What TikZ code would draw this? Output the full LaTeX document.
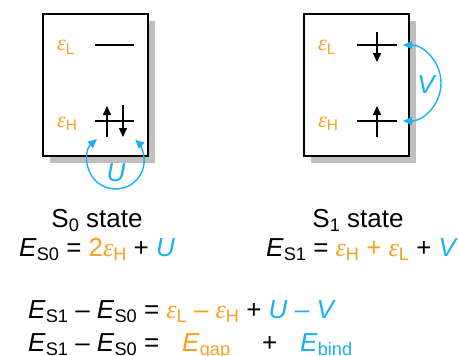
\documentclass[tikz,border=0pt]{standalone}
\usepackage{fontspec}
\setmainfont{Liberation Sans}
\newfontfamily\greekit{Liberation Serif}
\usetikzlibrary{arrows.meta,shadows}
\definecolor{levelorange}{HTML}{F7A11E}
\definecolor{coulombblue}{HTML}{1BB1F0}
\definecolor{shadowgray}{HTML}{BFBFBF}
\makeatletter
\newcommand{\lo}[1]{\raisebox{-0.17em}{\fontsize{\strip@pt\dimexpr0.7\dimexpr\f@size pt\relax\relax}{0}\selectfont #1}}
\makeatother
\newcommand{\eps}{{\greekit\itshape ε}}
\tikzset{
  statebox/.style={draw, fill=white, line width=1.3pt, minimum width=105pt, minimum height=142pt, inner sep=0pt,
    general shadow={fill=shadowgray, shadow xshift=7pt, shadow yshift=-7pt}},
  level/.style={line width=1.3pt},
  spin/.style={->, line width=1.6pt},
  coulomb/.style={<->, coulombblue, line width=1.4pt},
  levellabel/.style={anchor=base west, inner sep=0pt, levelorange, font=\fontsize{22}{26}\selectfont},
  eqline/.style={anchor=base west, inner sep=0pt},
}

\begin{document}
\begin{tikzpicture}[x=1pt, y=-1pt, >={Triangle[length=9pt,width=8pt]}, font=\fontsize{26}{30}\selectfont]
  \useasboundingbox (0,0) rectangle (459,356);
  % S0 box
  \node[statebox] (box0) at (95.5,85) {};
  \coordinate (L0) at (114.5,45);
  \coordinate (H0) at (114.5,121);
  \draw[level] ([xshift=-19.5]L0) -- ([xshift=19.5]L0);
  \draw[level] ([xshift=-19.5]H0) -- ([xshift=19.5]H0);
  \draw[spin] ([shift={(-7.5,16)}]H0) -- ([shift={(-7.5,-15)}]H0);
  \draw[spin] ([shift={(8.5,-16)}]H0) -- ([shift={(8.5,16)}]H0);
  \node[levellabel] (epsL0) at (57,51) {\eps\lo{L}};
  \node[levellabel] (epsH0) at (57,127) {\eps\lo{H}};
  \draw[coulomb] ([shift={(-17.5,18)}]H0) arc[start angle=229, end angle=-47, radius=28.5];
  \node[coulombblue] (U) at (116,173) {\textit{U}};
  % S1 box
  \node[statebox] (box1) at (356.5,85) {};
  \coordinate (L1) at (377,45);
  \coordinate (H1) at (377,121);
  \draw[level] ([xshift=-20]L1) -- ([xshift=19.5]L1);
  \draw[level] ([xshift=-20]H1) -- ([xshift=19.5]H1);
  \draw[spin] ([shift={(0,-13)}]L1) -- ([shift={(0,17)}]L1);
  \draw[spin] ([shift={(0,16)}]H1) -- ([shift={(0,-15)}]H1);
  \node[levellabel] (epsL1) at (318,51) {\eps\lo{L}};
  \node[levellabel] (epsH1) at (318,127) {\eps\lo{H}};
  \draw[coulomb] ([xshift=26]L1) arc[start angle=-90, end angle=90, radius=38];
  \node[coulombblue] (V) at (427,85) {\textit{V}};
  % energies
  \node[anchor=base] (s0) at (97,227) {S\lo{0} state};
  \node[anchor=base] (s1) at (358,227) {S\lo{1} state};
  \node[eqline] (es0) at (19,256) {\textit{E}\lo{S0} = {\color{levelorange}2\eps\lo{H}} + {\color{coulombblue}\textit{U}}};
  \node[eqline] (es1) at (266,256) {\textit{E}\lo{S1} = {\color{levelorange}\eps\lo{H} + \eps\lo{L}} + {\color{coulombblue}\textit{V}}};
  \node[eqline] (diff) at (28,318) {\textit{E}\lo{S1} – \textit{E}\lo{S0} = {\color{levelorange}\eps\lo{L} – \eps\lo{H}} + {\color{coulombblue}\textit{U} – \textit{V}}};
  \node[eqline] (diff2) at (28,351) {\textit{E}\lo{S1} – \textit{E}\lo{S0} =};
  \node[eqline, levelorange] (gap) at (182,351) {\textit{E}\lo{gap}};
  \node[eqline] (plus) at (262,351) {+};
  \node[eqline, coulombblue] (bind) at (300,351) {\textit{E}\lo{bind}};
\end{tikzpicture}
\end{document}
